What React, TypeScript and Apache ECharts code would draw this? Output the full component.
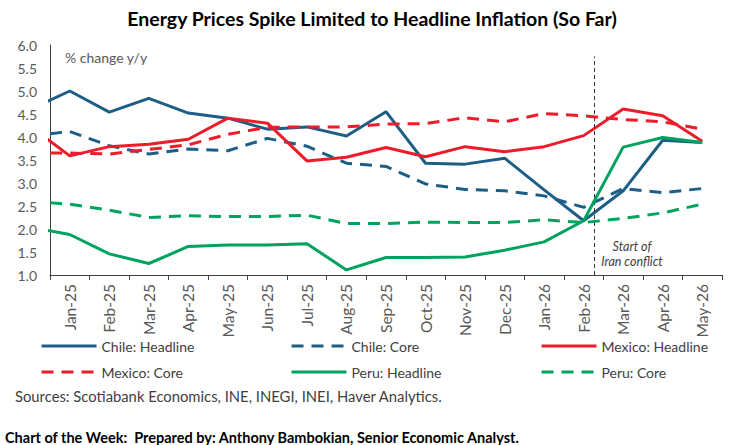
import React, { useEffect, useRef } from 'react';
import * as echarts from 'echarts';

// Month labels (categories on the x axis)
const months = [
  'Jan-25', 'Feb-25', 'Mar-25', 'Apr-25', 'May-25', 'Jun-25', 'Jul-25', 'Aug-25',
  'Sep-25', 'Oct-25', 'Nov-25', 'Dec-25', 'Jan-26', 'Feb-26', 'Mar-26', 'Apr-26', 'May-26',
];

// Each series starts with Dec-24 (only partly visible at the left edge), then Jan-25 ... May-26
const chileHeadline = [4.6, 5.0, 4.54, 4.84, 4.52, 4.41, 4.17, 4.22, 4.02, 4.55, 3.43, 3.41, 3.54, 2.85, 2.18, 2.83, 3.93, 3.88];
const chileCore = [4.02, 4.12, 3.81, 3.63, 3.74, 3.7, 3.97, 3.8, 3.43, 3.36, 2.98, 2.86, 2.83, 2.72, 2.47, 2.88, 2.79, 2.88];
const mexicoHeadline = [4.23, 3.59, 3.79, 3.84, 3.95, 4.41, 4.3, 3.48, 3.56, 3.77, 3.57, 3.79, 3.68, 3.79, 4.03, 4.61, 4.46, 3.91];
const mexicoCore = [3.65, 3.65, 3.63, 3.73, 3.83, 4.06, 4.21, 4.22, 4.22, 4.28, 4.29, 4.42, 4.33, 4.51, 4.46, 4.38, 4.33, 4.17];
const peruHeadline = [2.04, 1.88, 1.46, 1.25, 1.62, 1.65, 1.65, 1.68, 1.11, 1.38, 1.38, 1.39, 1.54, 1.72, 2.18, 3.78, 3.99, 3.88];
const peruCore = [2.6, 2.54, 2.41, 2.25, 2.29, 2.27, 2.27, 2.3, 2.12, 2.12, 2.15, 2.14, 2.14, 2.2, 2.14, 2.23, 2.35, 2.54];

// Position (in month index, Jan-25 = 0) of the "Start of Iran conflict" marker
const conflictStart = 13.28;
const conflictTop = 5.75;

const BLUE = '#1d5e86';
const RED = '#ee1c2b';
const GREEN = '#00a35e';
const FONT = 'Lato';

const seriesDefs = [
  { name: 'Chile: Headline', data: chileHeadline, color: BLUE, dashed: false },
  { name: 'Chile: Core', data: chileCore, color: BLUE, dashed: true },
  { name: 'Mexico: Headline', data: mexicoHeadline, color: RED, dashed: false },
  { name: 'Mexico: Core', data: mexicoCore, color: RED, dashed: true },
  { name: 'Peru: Headline', data: peruHeadline, color: GREEN, dashed: false },
  { name: 'Peru: Core', data: peruCore, color: GREEN, dashed: true },
];

const legendPos = [
  { left: 40, top: 339 },
  { left: 290, top: 339 },
  { left: 540, top: 339 },
  { left: 40, top: 365 },
  { left: 290, top: 365 },
  { left: 540, top: 365 },
];

export default function App() {
  const ref = useRef<HTMLDivElement>(null);

  useEffect(() => {
    if (!ref.current) return;
    const chart = echarts.init(ref.current, null, { renderer: 'svg' });

    const series: any[] = seriesDefs.map((s, idx) => ({
      name: s.name,
      type: 'line',
      xAxisIndex: 0,
      yAxisIndex: 0,
      data: s.data.map((v, i) => [i - 1, v]),
      symbol: 'none',
      showSymbol: false,
      clip: true,
      color: s.color,
      lineStyle: { color: s.color, width: 3, type: s.dashed ? [12, 8] : 'solid' },
      z: 2 + idx,
      ...(idx === 0
        ? {
            markLine: {
              silent: true,
              symbol: ['none', 'none'],
              label: { show: false },
              lineStyle: { color: '#333333', width: 1, type: [4, 3] },
              data: [[{ coord: [conflictStart, 1] }, { coord: [conflictStart, conflictTop] }]],
            },
          }
        : {}),
    }));

    const legends = seriesDefs.map((s, i) => ({
      data: [s.name],
      left: legendPos[i].left,
      top: legendPos[i].top,
      padding: 0,
      itemWidth: 55,
      itemHeight: 14,
      itemGap: 0,
      selectedMode: false,
      itemStyle: { opacity: 0 },
      lineStyle: { width: 3 },
      textStyle: { fontFamily: FONT, fontSize: 14, color: '#404040' },
    }));

    chart.setOption({
      animation: false,
      grid: { left: 50, right: 22, top: 45, bottom: 170, containLabel: false },
      legend: legends,
      xAxis: [
        {
          type: 'value',
          min: -0.5,
          max: 16.5,
          interval: 1,
          position: 'bottom',
          axisLine: { show: true, onZero: false, lineStyle: { color: '#404040', width: 1 } },
          axisTick: { show: true, length: 5, lineStyle: { color: '#404040' } },
          axisLabel: { show: false },
          splitLine: { show: false },
        },
        {
          type: 'category',
          data: months,
          position: 'bottom',
          boundaryGap: true,
          axisLine: { show: false, onZero: false },
          axisTick: { show: false },
          axisLabel: {
            interval: 0,
            rotate: 90,
            margin: 9,
            fontFamily: FONT,
            fontSize: 15.5,
            color: '#595959',
          },
          splitLine: { show: false },
        },
      ],
      yAxis: {
        type: 'value',
        min: 1,
        max: 6,
        interval: 0.5,
        axisLine: { show: true, onZero: false, lineStyle: { color: '#404040', width: 1 } },
        axisTick: { show: false },
        splitLine: { show: false },
        axisLabel: {
          formatter: (v: number) => v.toFixed(1),
          fontFamily: FONT,
          fontSize: 14,
          color: '#595959',
          margin: 13,
        },
      },
      series,
      graphic: [
        {
          type: 'text',
          x: 372,
          y: 18,
          style: {
            text: 'Energy Prices Spike Limited to Headline Inflation (So Far)',
            align: 'center',
            verticalAlign: 'middle',
            font: `bold 19.5px ${FONT}`,
            fill: '#000000',
          },
        },
        {
          type: 'text',
          x: 65,
          y: 57,
          style: {
            text: '% change y/y',
            align: 'left',
            verticalAlign: 'middle',
            font: `14px ${FONT}`,
            fill: '#595959',
          },
        },
        {
          type: 'text',
          x: 632,
          y: 246,
          style: {
            text: 'Start of',
            align: 'center',
            verticalAlign: 'middle',
            font: `italic 12.5px ${FONT}`,
            fill: '#404040',
          },
        },
        {
          type: 'text',
          x: 632,
          y: 261,
          style: {
            text: 'Iran conflict',
            align: 'center',
            verticalAlign: 'middle',
            font: `italic 12.5px ${FONT}`,
            fill: '#404040',
          },
        },
        {
          type: 'text',
          x: 15,
          y: 396,
          style: {
            text: 'Sources: Scotiabank Economics, INE, INEGI, INEI, Haver Analytics.',
            align: 'left',
            verticalAlign: 'middle',
            font: `14.8px ${FONT}`,
            fill: '#404040',
          },
        },
        {
          type: 'text',
          x: 5,
          y: 437,
          style: {
            text: 'Chart of the Week:  Prepared by: Anthony Bambokian, Senior Economic Analyst.',
            align: 'left',
            verticalAlign: 'middle',
            font: `bold 14.5px ${FONT}`,
            fill: '#000000',
          },
        },
      ],
    });

    return () => {
      chart.dispose();
    };
  }, []);

  return (
    <div
      ref={ref}
      style={{ position: 'absolute', left: 0, top: 0, width: 744, height: 445, background: '#ffffff' }}
    />
  );
}
